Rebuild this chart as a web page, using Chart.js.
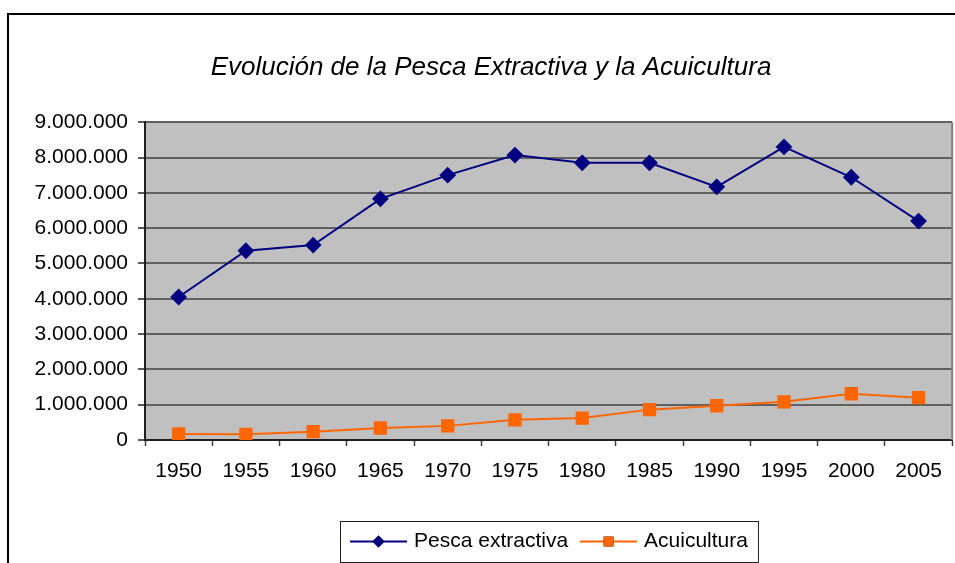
<!DOCTYPE html>
<html>
<head>
<meta charset="utf-8">
<script src="https://cdn.jsdelivr.net/npm/chart.js@4.4.0/dist/chart.umd.min.js"></script>
<style>
  html, body { margin: 0; padding: 0; background: #fff; }
  #wrap { width: 955px; height: 563px; }
</style>
</head>
<body>
<div id="wrap"><canvas id="chart" width="955" height="563"></canvas></div>
<script>
const years = ['1950', '1955', '1960', '1965', '1970', '1975', '1980', '1985', '1990', '1995', '2000', '2005'];
const pescaExtractiva = [4050000, 5360000, 5520000, 6830000, 7500000, 8070000, 7850000, 7850000, 7170000, 8300000, 7440000, 6200000];
const acuicultura = [170000, 160000, 235000, 340000, 400000, 570000, 620000, 860000, 970000, 1080000, 1310000, 1200000];
const yTicks = [0, 1000000, 2000000, 3000000, 4000000, 5000000, 6000000, 7000000, 8000000, 9000000];

const FONT = 'Arial, "Liberation Sans", sans-serif';

function fmt(v) {
    return String(v).replace(/\B(?=(\d{3})+(?!\d))/g, '.');
}

// gray plot background, right border and the outer chart frame
const backdrop = {
    id: 'backdrop',
    beforeDraw(chart) {
        const { ctx, chartArea: a } = chart;
        ctx.save();
        ctx.fillStyle = '#c0c0c0';
        ctx.fillRect(a.left, a.top, a.right - a.left, a.bottom - a.top);
        ctx.strokeStyle = '#000';
        ctx.lineWidth = 2;
        ctx.beginPath();
        ctx.moveTo(8, 563);
        ctx.lineTo(8, 14);
        ctx.lineTo(955, 14);
        ctx.stroke();
        ctx.restore();
    },
    afterDatasetsDraw(chart) {
        const { ctx, chartArea: a } = chart;
        ctx.save();
        ctx.strokeStyle = '#808080';
        ctx.lineWidth = 2;
        ctx.beginPath();
        ctx.moveTo(a.right, a.top);
        ctx.lineTo(a.right, a.bottom);
        ctx.stroke();
        ctx.restore();
    }
};

// excel-like legend: line sample with marker, boxed, centred under the plot
const boxLegend = {
    id: 'boxLegend',
    afterDraw(chart) {
        const { ctx, chartArea: a } = chart;
        const sets = chart.data.datasets;
        ctx.save();
        ctx.font = '21px ' + FONT;
        const sample = 57, gap = 7, itemGap = 12, padX = 10;
        let total = padX * 2;
        sets.forEach((ds, i) => {
            total += sample + gap + ctx.measureText(ds.label).width;
            if (i < sets.length - 1) total += itemGap;
        });
        const cx = (a.left + a.right) / 2;
        const left = Math.round(cx - total / 2);
        const top = 521, h = 41, cy = top + h / 2;
        ctx.strokeStyle = '#202020';
        ctx.lineWidth = 1;
        ctx.strokeRect(left + 0.5, top + 0.5, total, h);
        let x = left + padX;
        sets.forEach((ds) => {
            ctx.strokeStyle = ds.borderColor;
            ctx.lineWidth = 2;
            ctx.beginPath();
            ctx.moveTo(x, cy);
            ctx.lineTo(x + sample, cy);
            ctx.stroke();
            Chart.helpers.drawPoint(ctx, {
                pointStyle: ds.pointStyle,
                radius: ds.pointStyle === 'rect' ? 7 : 6,
                rotation: 0,
                borderWidth: 0
            }, x + sample / 2, cy);
            ctx.fillStyle = ds.pointBackgroundColor;
            ctx.fill();
            x += sample + gap;
            ctx.fillStyle = '#000';
            ctx.textBaseline = 'middle';
            ctx.textAlign = 'left';
            ctx.fillText(ds.label, x, cy);
            x += ctx.measureText(ds.label).width + itemGap;
        });
        ctx.restore();
    }
};

new Chart(document.getElementById('chart'), {
    type: 'line',
    data: {
        labels: years,
        datasets: [{
            label: 'Pesca extractiva',
            data: pescaExtractiva,
            borderColor: '#000080',
            backgroundColor: '#000080',
            pointBackgroundColor: '#000080',
            pointBorderColor: '#000080',
            pointStyle: 'rectRot',
            pointRadius: 7,
            borderWidth: 2,
            tension: 0
        }, {
            label: 'Acuicultura',
            data: acuicultura,
            borderColor: '#ff6600',
            backgroundColor: '#ff6600',
            pointBackgroundColor: '#ff6600',
            pointBorderColor: '#ff6600',
            pointStyle: 'rect',
            pointRadius: 8,
            borderWidth: 2,
            tension: 0
        }]
    },
    options: {
        responsive: false,
        animation: false,
        layout: { autoPadding: false, padding: { left: 29, right: 2, top: 0, bottom: 0 } },
        plugins: {
            legend: { display: false },
            tooltip: { enabled: false },
            title: {
                display: true,
                text: 'Evolución de la Pesca Extractiva y la Acuicultura',
                color: '#000',
                font: { family: FONT, size: 26, style: 'italic', weight: 'normal' },
                padding: { top: 52, bottom: 39 }
            }
        },
        scales: {
            x: {
                offset: true,
                grid: {
                    offset: true,
                    drawOnChartArea: false,
                    drawTicks: true,
                    tickLength: 6,
                    tickColor: '#404040',
                    tickWidth: 1.5
                },
                border: { color: '#202020', width: 2 },
                ticks: {
                    color: '#000',
                    font: { family: FONT, size: 21 },
                    padding: 13,
                    maxRotation: 0,
                    autoSkip: false
                },
                afterFit(scale) { scale.height = 123; }
            },
            y: {
                min: 0,
                max: 9000000,
                afterBuildTicks(scale) { scale.ticks = yTicks.map(v => ({ value: v })); },
                grid: {
                    color: '#606060',
                    lineWidth: 2,
                    tickLength: 7,
                    tickColor: '#202020',
                    tickWidth: 1.5
                },
                border: { color: '#202020', width: 2 },
                ticks: {
                    color: '#000',
                    font: { family: FONT, size: 21 },
                    padding: 10,
                    callback: (v) => fmt(v)
                },
                afterFit(scale) { scale.width = 116; }
            }
        }
    },
    plugins: [backdrop, boxLegend]
});
</script>
</body>
</html>
